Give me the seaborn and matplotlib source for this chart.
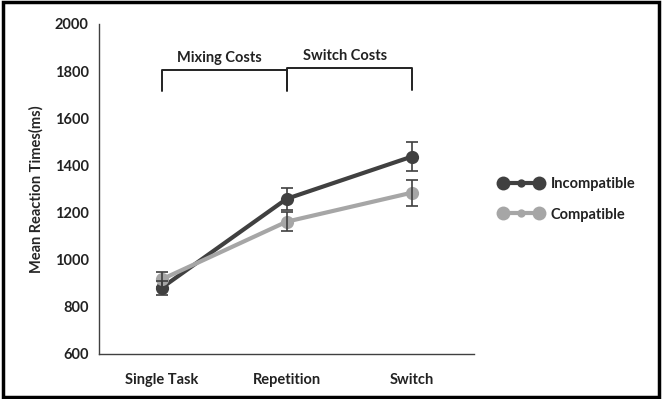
import matplotlib
matplotlib.use("Agg")
import matplotlib.pyplot as plt
import seaborn as sns
import pandas as pd
from matplotlib.lines import Line2D
from matplotlib.legend_handler import HandlerTuple, HandlerLine2D
from matplotlib.patches import Rectangle

conditions = ["Single Task", "Repetition", "Switch"]
incompatible = [880, 1258, 1437]
incompatible_err = [28, 46, 63]
compatible = [916, 1161, 1284]
compatible_err = [32, 39, 55]

series_names = ["Incompatible", "Compatible"]
colors = {"Incompatible": "#404040", "Compatible": "#a6a6a6"}

df = pd.DataFrame({
    "condition": conditions * 2,
    "rt": incompatible + compatible,
    "group": ["Incompatible"] * 3 + ["Compatible"] * 3,
})

sns.set_style("white")
plt.rcParams["font.family"] = ["Lato", "DejaVu Sans"]
plt.rcParams["font.size"] = 10.5
plt.rcParams["font.weight"] = "bold"
plt.rcParams["axes.labelweight"] = "bold"

fig = plt.figure(figsize=(6.62, 3.99), dpi=100)
ax = fig.add_axes([0.1495, 0.113, 0.567, 0.827])

sns.lineplot(data=df, x="condition", y="rt", hue="group", hue_order=series_names,
             palette=colors, marker="o", markersize=9.5, markeredgewidth=0,
             linewidth=3, legend=False, ax=ax, zorder=3)

# error bars (dark for both series)
ax.errorbar(conditions, incompatible, yerr=incompatible_err, fmt="none",
            ecolor="#404040", elinewidth=1.2, capsize=4, capthick=1.2, zorder=4)
ax.errorbar(conditions, compatible, yerr=compatible_err, fmt="none",
            ecolor="#404040", elinewidth=1.2, capsize=4, capthick=1.2, zorder=4)

ax.set_xlim(-0.5, 2.5)
ax.set_ylim(600, 2000)
ax.set_yticks(range(600, 2001, 200))
ax.set_xlabel("")
ax.set_ylabel("Mean Reaction Times(ms)", fontsize=10.5, labelpad=8)

for s in ["top", "right"]:
    ax.spines[s].set_visible(False)
for s in ["left", "bottom"]:
    ax.spines[s].set_color("#404040")
    ax.spines[s].set_linewidth(1.0)
ax.tick_params(axis="both", direction="out", length=4, width=1, color="#404040",
               labelsize=10.5, labelcolor="#222222")
ax.tick_params(axis="x", pad=10)

# brackets above the conditions
ax.plot([0, 0, 1, 1], [1717, 1806, 1806, 1717], color="#222222", lw=1.4,
        clip_on=False, solid_joinstyle="round")
ax.plot([1, 1, 2, 2], [1720, 1812, 1812, 1720], color="#222222", lw=1.4,
        clip_on=False, solid_joinstyle="round")
ax.text(0.46, 1854, "Mixing Costs", ha="center", va="center", fontsize=10.5,
        color="#222222")
ax.text(1.47, 1864, "Switch Costs", ha="center", va="center", fontsize=10.5,
        color="#222222")

# legend: line with big end markers and a small middle dot
handles = []
hmap = {tuple: HandlerTuple(ndivide=1, pad=0)}
for name in series_names:
    big = Line2D([], [], color=colors[name], lw=3, marker="o", markersize=10,
                 markeredgewidth=0)
    small = Line2D([], [], color=colors[name], lw=0, marker="o", markersize=6,
                   markeredgewidth=0)
    hmap[small] = HandlerLine2D(numpoints=1)
    handles.append((big, small))
fig.legend(handles, series_names, loc="center left", bbox_to_anchor=(0.742, 0.5),
           frameon=False, numpoints=2, handlelength=3.1, handletextpad=0.5,
           labelspacing=1.1, borderpad=0, fontsize=10.5, handler_map=hmap,
           labelcolor="#222222")

# frame around the whole figure
fig.patches.append(Rectangle((0.004, 0.005), 0.992, 0.99, transform=fig.transFigure,
                             fill=False, edgecolor="black", lw=2.5))

fig.savefig("out.png", dpi=100)
